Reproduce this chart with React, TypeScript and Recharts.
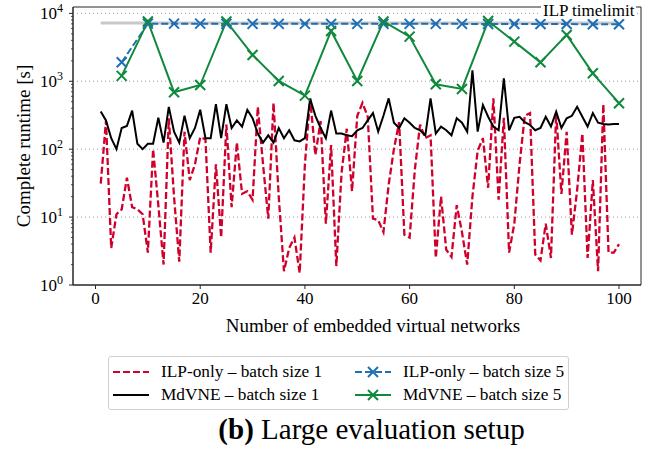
import { LineChart, Line, XAxis, YAxis, ReferenceLine, ReferenceArea } from 'recharts'

// runtime [s] per embedded virtual network, batch size 1 (x = 1..100)
const ILP_BATCH1 = [
    31, 260, 3.5, 11, 13, 38, 14, 13, 11, 3,
    100, 15, 2, 285, 20, 2.2, 180, 35, 60, 150,
    140, 3, 60, 5, 230, 14, 125, 22, 24, 18,
    420, 60, 9.5, 480, 20, 1.6, 3.5, 5, 1.5, 60,
    560, 82, 260, 8, 115, 1.9, 45, 200, 24, 310,
    480, 300, 9.5, 9, 6, 30, 100, 250, 5.5, 5,
    50, 230, 145, 160, 2.5, 20, 3.3, 2.6, 15, 6,
    2, 20, 95, 145, 27, 560, 18, 290, 3, 8,
    60, 310, 340, 2.8, 2.3, 8, 2.5, 340, 22, 180,
    5.5, 25, 170, 2.5, 35, 1.6, 460, 3, 3, 4,
]
const MDVNE_BATCH1 = [
    360, 265, 145, 100, 205, 220, 370, 120, 100, 120,
    120, 290, 125, 420, 181, 125, 310, 145, 205, 380,
    145, 145, 460, 145, 460, 205, 265, 215, 380, 285,
    170, 125, 160, 125, 205, 145, 190, 135, 130, 145,
    550, 310, 205, 145, 370, 170, 170, 160, 155, 190,
    205, 265, 340, 181, 310, 560, 245, 205, 285, 245,
    205, 190, 160, 560, 170, 215, 190, 160, 285, 245,
    181, 1450, 181, 448, 300, 215, 190, 1100, 190, 290,
    300, 250, 227, 190, 205, 300, 215, 357, 205, 285,
    310, 420, 300, 215, 340, 245, 235, 230, 235, 235,
]

// batch size 5
const BATCH5_X = [5, 10, 15, 20, 25, 30, 35, 40, 45, 50, 55, 60, 65, 70, 75, 80, 85, 90, 95, 100]
const ILP_BATCH5 = [1900, 7050, 7050, 7050, 7000, 7000, 7000, 7000, 7000, 7000, 7000, 7000, 7000, 7000, 6950, 6950, 6950, 6950, 6900, 6900]
const MDVNE_BATCH5 = [1200, 7600, 690, 880, 7600, 2440, 1010, 614, 5500, 1010, 7600, 4540, 903, 770, 7700, 3830, 1900, 4810, 1310, 475]

const ILP_TIMELIMIT = 7200

const X_TICKS = [0, 20, 40, 60, 80, 100]
const Y_MAJOR = [1, 10, 100, 1000, 10000]
const Y_MINOR = [
    2, 3, 4, 5, 6, 7, 8, 9,
    20, 30, 40, 50, 60, 70, 80, 90,
    200, 300, 400, 500, 600, 700, 800, 900,
    2000, 3000, 4000, 5000, 6000, 7000, 8000, 9000,
]

const FONT = '"Liberation Serif", "Times New Roman", serif'
const RED = '#d0002c'
const BLUE = '#1f6fb5'
const GREEN = '#0f8a3c'
const AXIS = '#262626'

const batch1Rows = ILP_BATCH1.map((v, i) => ({ x: i + 1, ilp: v, mdvne: MDVNE_BATCH1[i] }))
const batch5Rows = BATCH5_X.map((x, i) => ({ x, ilp: ILP_BATCH5[i], mdvne: MDVNE_BATCH5[i] }))

const crossDot = (color: string) => (p: any) => {
    const { cx, cy, index } = p
    if (cx == null || cy == null) return <g key={`d-${index}`} />
    const s = 5
    return (
        <path
            key={`d-${index}`}
            d={`M${cx - s},${cy - s}L${cx + s},${cy + s}M${cx - s},${cy + s}L${cx + s},${cy - s}`}
            stroke={color}
            strokeWidth={2}
            fill="none"
        />
    )
}

const YTick = ({ x, y, payload }: any) => {
    const v = payload.value
    const exp = Math.round(Math.log10(v))
    const major = Math.abs(Math.log10(v) - exp) < 1e-6
    return (
        <g>
            <line x1={x} x2={x - (major ? 4 : 2)} y1={y} y2={y} stroke={AXIS} strokeWidth={major ? 1 : 0.8} />
            {major && (
                <text x={x - 10} y={y + 6} textAnchor="end" fontFamily={FONT} fontSize={17} fill="#000">
                    10<tspan dy={-7.5} fontSize={12}>{exp}</tspan>
                </text>
            )}
        </g>
    )
}

const legendItems = [
    { name: 'ILP-only – batch size 1', color: RED, dashed: true, marker: false },
    { name: 'ILP-only – batch size 5', color: BLUE, dashed: true, marker: true },
    { name: 'MdVNE – batch size 1', color: '#000', dashed: false, marker: false },
    { name: 'MdVNE – batch size 5', color: GREEN, dashed: false, marker: true },
]

export default function App() {
    return (
        <div style={{ position: 'absolute', left: 0, top: 0, width: 653, height: 450, background: '#fff', fontFamily: FONT }}>
            <LineChart
                width={653}
                height={340}
                data={batch1Rows}
                margin={{ top: 7, right: 12, bottom: 0, left: 13 }}
                style={{ fontFamily: FONT }}
            >
                <XAxis
                    dataKey="x"
                    type="number"
                    domain={[-4.3, 104.2]}
                    allowDataOverflow
                    ticks={X_TICKS}
                    interval={0}
                    height={55}
                    stroke={AXIS}
                    tickSize={4}
                    tickMargin={3}
                    tick={{ fontFamily: FONT, fontSize: 17, fill: '#000' }}
                />
                <YAxis
                    type="number"
                    scale="log"
                    domain={[1, 12400]}
                    allowDataOverflow
                    ticks={[...Y_MAJOR, ...Y_MINOR]}
                    interval={0}
                    width={60}
                    stroke={AXIS}
                    tickLine={false}
                    tickSize={0}
                    tickMargin={0}
                    tick={<YTick />}
                    label={{ value: 'Complete runtime [s]', angle: -90, position: 'insideLeft', offset: 10, fontFamily: FONT, fontSize: 19, fill: '#000', style: { textAnchor: 'middle' } }}
                />
                {Y_MAJOR.map(v => (
                    <ReferenceLine key={v} y={v} stroke="#9a9a9a" strokeDasharray="1 3" strokeWidth={1} />
                ))}
                <ReferenceLine
                    segment={[{ x: 1, y: ILP_TIMELIMIT }, { x: 100, y: ILP_TIMELIMIT }]}
                    stroke="#c8c8c8"
                    strokeWidth={3}
                />
                <Line dataKey="ilp" stroke={RED} strokeWidth={2.3} strokeDasharray="7 3" dot={false} isAnimationActive={false} />
                <Line dataKey="mdvne" stroke="#000" strokeWidth={2} dot={false} isAnimationActive={false} />
                <Line
                    data={batch5Rows}
                    dataKey="ilp"
                    stroke={BLUE}
                    strokeWidth={2}
                    strokeDasharray="7 3"
                    dot={crossDot(BLUE)}
                    isAnimationActive={false}
                />
                <Line
                    data={batch5Rows}
                    dataKey="mdvne"
                    stroke={GREEN}
                    strokeWidth={2}
                    dot={crossDot(GREEN)}
                    isAnimationActive={false}
                />
                <ReferenceArea x1={-4.3} x2={104.2} y1={1} y2={12400} fill="none" stroke={AXIS} strokeWidth={1} ifOverflow="visible" />
            </LineChart>

            <div style={{
                position: 'absolute', left: 541, top: 3, padding: '0 2px',
                background: '#fff', fontSize: 17, lineHeight: '16px', color: '#000',
            }}>
                ILP timelimit
            </div>

            <div style={{
                position: 'absolute', left: 373, top: 316, transform: 'translateX(-50%)',
                whiteSpace: 'nowrap', fontSize: 19, lineHeight: '19px', color: '#000',
            }}>
                Number of embedded virtual networks
            </div>

            <div style={{
                position: 'absolute', left: 108, top: 356, width: 461, height: 54,
                border: '1px solid #d0d0d0', borderRadius: 3, boxSizing: 'border-box',
                display: 'grid', gridTemplateColumns: '242px 1fr', alignContent: 'center', rowGap: 4,
                fontSize: 17.3, color: '#000',
            }}>
                {legendItems.map(item => (
                    <div key={item.name} style={{ display: 'flex', alignItems: 'center', height: 19, whiteSpace: 'nowrap' }}>
                        <svg width={36} height={14} style={{ marginLeft: 4, marginRight: 12, flex: 'none' }}>
                            <line x1={0} x2={36} y1={7} y2={7} stroke={item.color} strokeWidth={2.2}
                                strokeDasharray={item.dashed ? '7 3' : undefined} />
                            {item.marker && (
                                <path d="M13,2L23,12M13,12L23,2" stroke={item.color} strokeWidth={2} />
                            )}
                        </svg>
                        <span>{item.name}</span>
                    </div>
                ))}
            </div>

            <div style={{ position: 'absolute', left: 0, width: 653, top: 414, textAlign: 'center', fontSize: 29, lineHeight: '30px', color: '#000' }}>
                <span style={{ marginLeft: 90 }}><b>(b)</b> Large evaluation setup</span>
            </div>
        </div>
    )
}
